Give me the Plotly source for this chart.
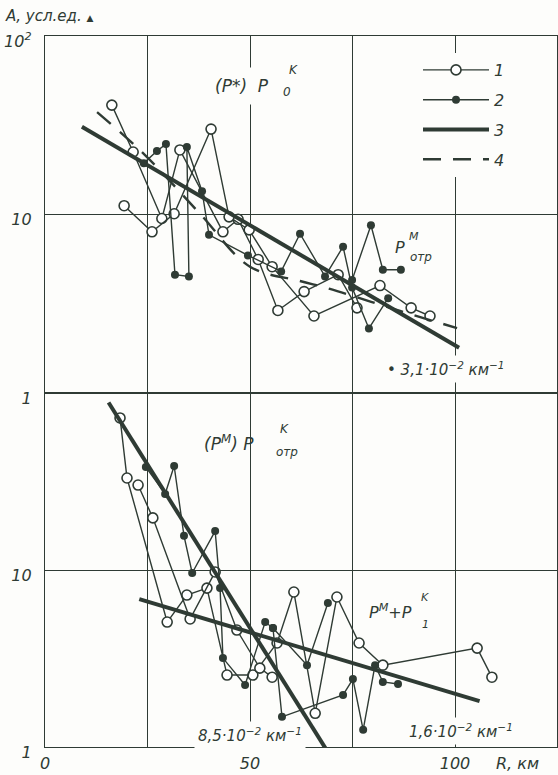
import numpy as np
import plotly.graph_objects as go
from plotly.subplots import make_subplots

INK = "#2f3b34"
PAPER = "#fdfdfb"
FONT = "DejaVu Sans"

# ---------------- upper panel: (P*) P0^K and P^M_отр ----------------
open_top_a_R = [16.3, 21.5, 28.5, 32.9, 43.4, 47.1, 52.0, 56.8, 63.2, 71.5, 76.1]
open_top_a_A = [41.0, 22.4, 9.5, 23.0, 8.0, 9.4, 5.6, 2.9, 3.7, 4.6, 3.0]
open_top_b_R = [19.3, 26.1, 31.5, 40.5, 44.9, 49.8, 55.4, 65.6, 81.7, 89.3, 93.9]
open_top_b_A = [11.2, 8.0, 10.1, 30.1, 9.7, 8.2, 5.1, 2.7, 4.0, 3.0, 2.7]

fill_top_a_R = [24.1, 27.3, 29.5, 31.7, 35.1, 34.6, 38.3, 40.0, 49.5, 57.6, 62.2, 68.3, 72.7, 74.9, 79.0, 83.7]
fill_top_a_A = [19.4, 22.7, 24.8, 4.6, 4.5, 23.9, 13.5, 7.7, 5.9, 4.8, 7.8, 4.5, 6.6, 3.9, 2.3, 3.4]
fill_top_b_R = [74.9, 79.5, 82.4, 86.8]
fill_top_b_A = [4.3, 8.7, 4.9, 4.9]

dash_top_R = [12.7, 24.4, 37.8, 50.0, 62.2, 69.5, 86.6, 100.5]
dash_top_A = [37.5, 21.5, 10.1, 5.1, 4.24, 3.83, 2.88, 2.31]

# exponential fit A = A0 * exp(-k R)
fit_top = dict(A0=41.0, k=3.1e-2, R=(9.0, 101.0))

# ---------------- lower panel: (P^M) P^K_отр and P^M + P^K_1 ----------------
open_bot_a_R = [18.3, 20.0, 29.8, 34.6, 39.5, 44.4, 50.7, 56.6, 60.7, 65.9, 71.2, 76.6, 82.4, 105.4, 109.0]
open_bot_a_A = [72.3, 33.1, 5.08, 7.22, 7.9, 2.55, 2.55, 3.87, 7.51, 1.55, 7.04, 3.87, 2.90, 3.62, 2.48]
open_bot_b_R = [22.7, 26.3, 35.4, 41.5, 46.8, 52.4, 55.4]
open_bot_b_A = [30.2, 19.7, 5.29, 9.75, 4.58, 2.79, 2.48]

fill_bot_a_R = [24.6, 29.3, 31.5, 33.9, 35.9, 41.5, 42.7, 43.4, 48.8, 53.7, 55.6, 57.8, 72.7, 75.1, 77.6, 80.5, 82.4, 86.1]
fill_bot_a_A = [38.2, 26.9, 38.7, 15.6, 9.62, 16.6, 7.9, 3.18, 2.24, 5.08, 4.70, 1.48, 1.97, 2.42, 1.25, 2.90, 2.33, 2.27]
fill_bot_b_R = [55.6, 63.9, 69.0]
fill_bot_b_A = [4.70, 2.90, 6.51]

fit_bot_steep = dict(A0=330.0, k=8.5e-2, R=(15.5, 72.0))
fit_bot_flat = dict(A0=9.9, k=1.6e-2, R=(23.0, 106.0))

x_ticks = [0, 25, 50, 75, 100]
x_ticktext = ["0", " ", "50", " ", "100"]

fig = make_subplots(rows=2, cols=1, shared_xaxes=True, vertical_spacing=0)


def fit_curve(p):
    r = np.linspace(p["R"][0], p["R"][1], 60)
    return r, p["A0"] * np.exp(-p["k"] * r)


def open_trace(R, A, show, row):
    fig.add_trace(go.Scatter(
        x=R, y=A, mode="lines+markers", name="1", legendgroup="1", legendrank=1,
        showlegend=show,
        line=dict(color=INK, width=1.4),
        marker=dict(symbol="circle", size=10, color="white", line=dict(color=INK, width=1.6)),
    ), row=row, col=1)


def fill_trace(R, A, show, row):
    fig.add_trace(go.Scatter(
        x=R, y=A, mode="lines+markers", name="2", legendgroup="2", legendrank=2,
        showlegend=show,
        line=dict(color=INK, width=1.4),
        marker=dict(symbol="circle", size=8, color=INK),
    ), row=row, col=1)


def fit_trace(p, show, row):
    r, a = fit_curve(p)
    fig.add_trace(go.Scatter(
        x=r, y=a, mode="lines", name="3", legendgroup="3", legendrank=3,
        showlegend=show, line=dict(color=INK, width=4),
    ), row=row, col=1)


# upper panel
open_trace(open_top_a_R, open_top_a_A, True, 1)
open_trace(open_top_b_R, open_top_b_A, False, 1)
fill_trace(fill_top_a_R, fill_top_a_A, True, 1)
fill_trace(fill_top_b_R, fill_top_b_A, False, 1)
fit_trace(fit_top, True, 1)
fig.add_trace(go.Scatter(
    x=dash_top_R, y=dash_top_A, mode="lines", name="4", legendgroup="4", legendrank=4,
    line=dict(color=INK, width=2.4, dash="18px,12px", shape="spline"),
), row=1, col=1)

# lower panel
open_trace(open_bot_a_R, open_bot_a_A, False, 2)
open_trace(open_bot_b_R, open_bot_b_A, False, 2)
fill_trace(fill_bot_a_R, fill_bot_a_A, False, 2)
fill_trace(fill_bot_b_R, fill_bot_b_A, False, 2)
fit_trace(fit_bot_steep, False, 2)
fit_trace(fit_bot_flat, False, 2)

# ---------------- axes ----------------
L, R_, T, B = 45, 1, 36, 28
W, H = 558, 775
plot_w, plot_h = W - L - R_, H - T - B
split = (H - B - 393) / plot_h

axis_common = dict(
    showline=True, linecolor=INK, linewidth=1.4, mirror=True,
    showgrid=True, gridcolor=INK, gridwidth=1.3, zeroline=False, ticks="",
    tickfont=dict(family=FONT, size=16, color=INK, style="italic"),
)
fig.update_xaxes(range=[0, plot_w / 4.1], tickvals=x_ticks, ticktext=x_ticktext, **axis_common)
fig.update_xaxes(showticklabels=False, row=1, col=1)
fig.update_xaxes(ticklabelstandoff=2, row=2, col=1)
fig.update_yaxes(type="log", range=[0, 2], ticklabelstandoff=9, ticklabelshift=5, **axis_common)
fig.update_yaxes(tickvals=[1, 10, 100], ticktext=["1", "10", "10<sup>2</sup>"],
                 domain=[split, 1], row=1, col=1)
fig.update_yaxes(tickvals=[1, 10], ticktext=["1", "10"], domain=[0, split], row=2, col=1)


# ---------------- labels ----------------
def px(x):
    return (x - L) / plot_w


def py(y):
    return (H - B - y) / plot_h


def label(text, x, y, size=16, bg=None, xanchor="center", pad=1):
    fig.add_annotation(
        text=text, x=px(x), y=py(y), xref="paper", yref="paper",
        xanchor=xanchor, yanchor="middle", showarrow=False,
        font=dict(family=FONT, size=size, color=INK, style="italic"),
        bgcolor=bg, borderpad=pad,
    )


label("А, усл.ед. <span style='font-size:9px'>▲</span>", 3, 16, size=15, xanchor="left")
label("R, км", 517, 763, size=16)

label("(P*)&nbsp;&nbsp;P", 242, 86, size=17, bg=PAPER, pad=8)
label("K", 293, 70, size=12)
label("0", 287, 92, size=12)

label("P", 400, 247, size=16)
label("M", 414, 236, size=11)
label("отр", 421, 257, size=12)
label("• 3,1·10<sup>−2</sup> км<sup>−1</sup>", 445, 369, size=15, bg=PAPER, pad=3)

label("(P<sup>M</sup>)&nbsp;P", 229, 443, size=17)
label("K", 284, 429, size=12)
label("отр", 287, 452, size=12)

label("P<sup>M</sup>+P", 390, 611, size=16)
label("K", 425, 597, size=11)
label("1", 425, 624, size=11)

label("8,5·10<sup>−2</sup> км<sup>−1</sup>", 250, 735, size=15, bg=PAPER, pad=3)
label("1,6·10<sup>−2</sup> км<sup>−1</sup>", 461, 731, size=15, bg=PAPER, pad=3)

fig.update_layout(
    width=W, height=H,
    margin=dict(l=L, r=R_, t=T, b=B),
    paper_bgcolor=PAPER, plot_bgcolor=PAPER,
    showlegend=True,
    legend=dict(
        x=px(418), y=py(53), xanchor="left", yanchor="top",
        bgcolor=PAPER, borderwidth=0, itemwidth=66, tracegroupgap=6,
        font=dict(family=FONT, size=16, color=INK, style="italic"),
        traceorder="grouped",
    ),
)

fig.write_html("out.html")
